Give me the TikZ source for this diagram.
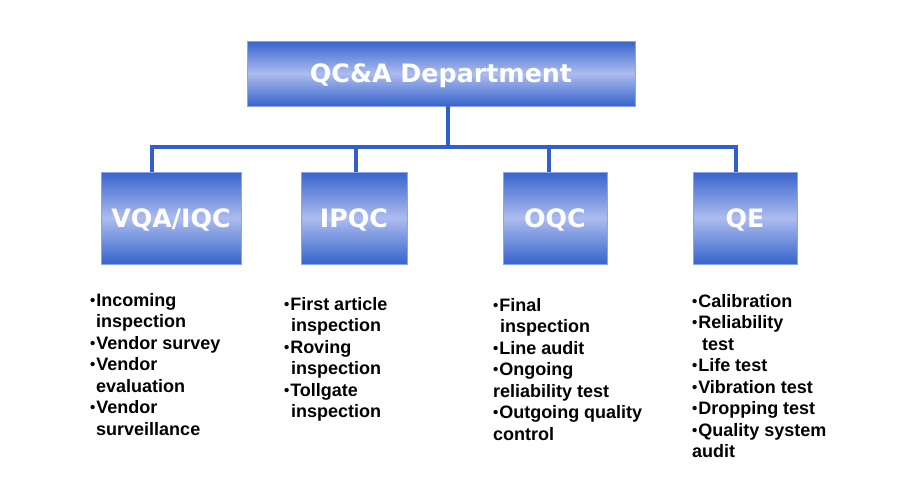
\documentclass[tikz,border=0pt]{standalone}
\usepackage{fontspec}
\setmainfont{Liberation Sans}
\newfontfamily\boxfont{DejaVu Sans}
\definecolor{boxdark}{RGB}{55,100,204}
\definecolor{boxlight}{RGB}{172,188,238}
\definecolor{linkblue}{RGB}{48,96,204}
\definecolor{boxedge}{RGB}{140,165,232}
\newcommand\bul{\raisebox{0.8pt}{\fontsize{15}{15}\selectfont•}\hspace{0.8pt}}
\begin{document}
\begin{tikzpicture}[x=1pt,y=-1pt,
  unit/.style={rectangle, draw=boxedge, line width=0.8pt, top color=boxdark, bottom color=boxdark, middle color=boxlight, text=white, font=\boxfont\bfseries\fontsize{25.3}{28}\selectfont, inner sep=0pt, text height=18.4pt, text depth=0pt},
  link/.style={draw=linkblue, line width=3.2pt},
  duty/.style={anchor=north west, align=left, inner sep=0pt, font=\bfseries\fontsize{18}{21.5}\selectfont}]
\fill[white] (0,0) rectangle (900,501);
\useasboundingbox (0,0) rectangle (900,501);

\node[unit, minimum width=388, minimum height=65] (top) at (441,73.5) {QC\&A Department};
\node[unit, minimum width=140, minimum height=92] (vqa) at (171,218) {VQA/IQC};
\node[unit, minimum width=106, minimum height=92] (ipqc) at (354,218) {IPQC};
\node[unit, minimum width=104, minimum height=92] (oqc) at (555,218) {OQC};
\node[unit, minimum width=104, minimum height=92] (qe) at (745,218) {QE};

\coordinate (j) at (448,147);
\coordinate (b1) at (152,147);
\coordinate (b2) at (356,147);
\coordinate (b3) at (549,147);
\coordinate (b4) at (736,147);

\draw[link] (top.south -| j) -- (j);
\draw[link] (b1 |- vqa.north) -- (b1) -- (b4) -- (b4 |- qe.north);
\draw[link] (b2) -- (b2 |- ipqc.north);
\draw[link] (b3) -- (b3 |- oqc.north);

\node[duty] (l1) at (90,293) {\bul Incoming\\\hspace*{6pt}inspection\\\bul Vendor survey\\\bul Vendor\\\hspace*{6pt}evaluation\\\bul Vendor\\\hspace*{6pt}surveillance};
\node[duty] (l2) at (284,297) {\bul First article\\\hspace*{7pt}inspection\\\bul Roving\\\hspace*{7pt}inspection\\\bul Tollgate\\\hspace*{7pt}inspection};
\node[duty] (l3) at (493,298) {\bul Final\\\hspace*{7pt}inspection\\\bul Line audit\\\bul Ongoing\\reliability test\\\bul Outgoing quality\\control};
\node[duty] (l4) at (692,294) {\bul Calibration\\\bul Reliability\\\hspace*{10pt}test\\\bul Life test\\\bul Vibration test\\\bul Dropping test\\\bul Quality system\\audit};
\end{tikzpicture}
\end{document}
